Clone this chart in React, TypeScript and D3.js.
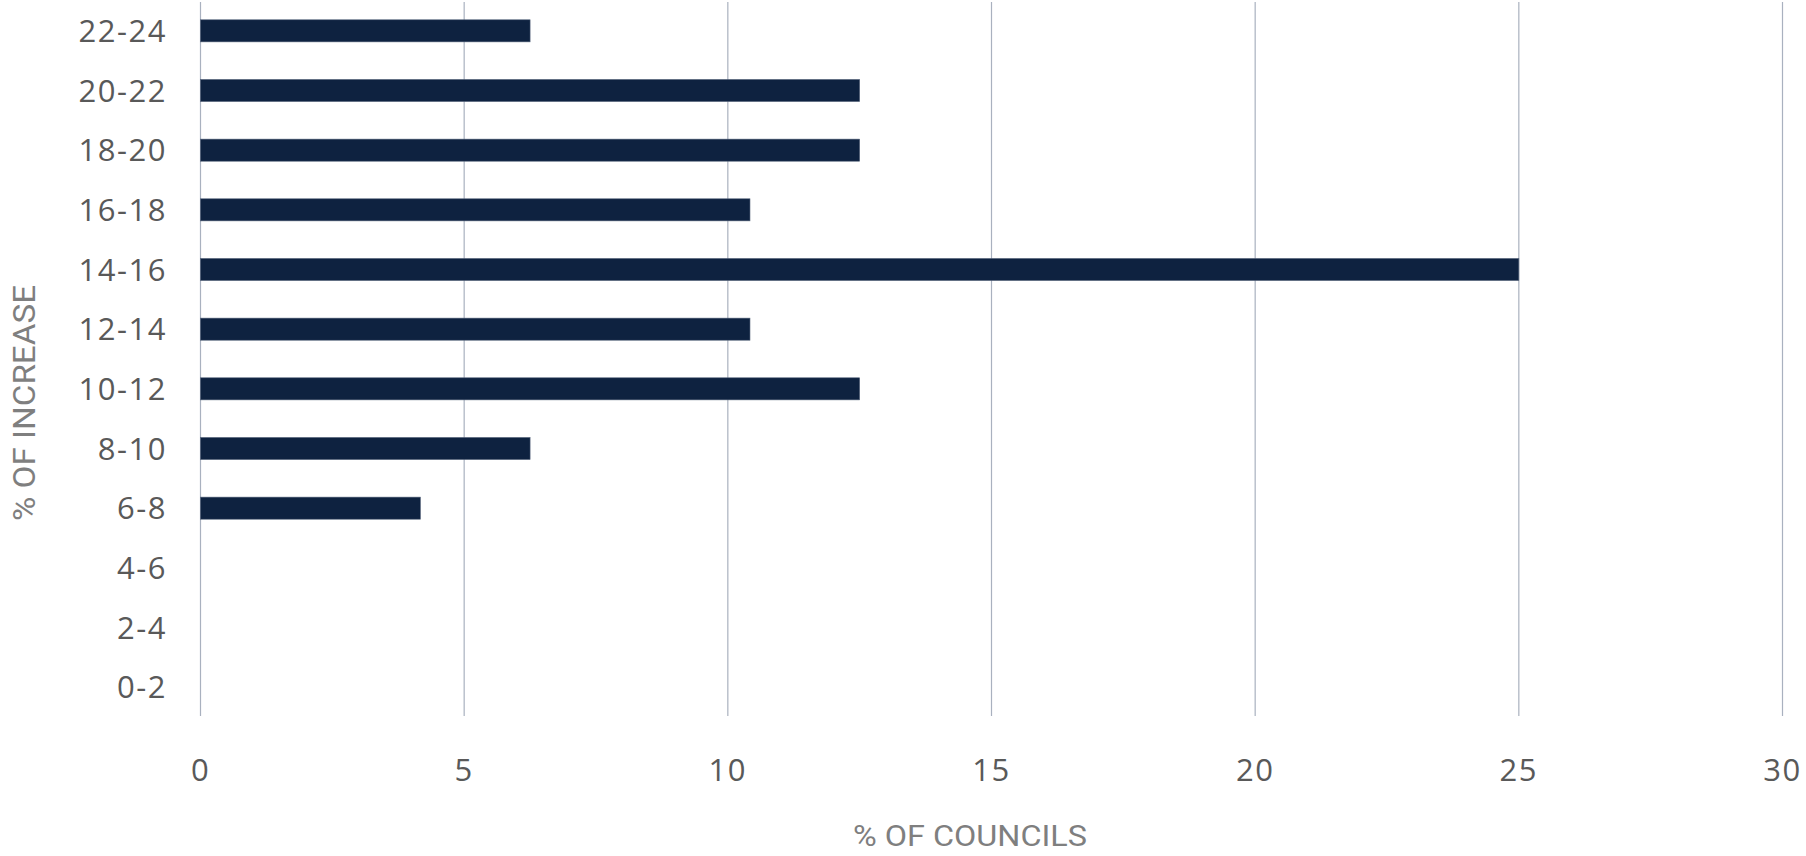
import React from "react";
import * as d3 from "d3";

const categories = ["22-24", "20-22", "18-20", "16-18", "14-16", "12-14", "10-12", "8-10", "6-8", "4-6", "2-4", "0-2"];
const values = [6.25, 12.5, 12.5, 10.42, 25, 10.42, 12.5, 6.25, 4.17, 0, 0, 0];
const xTicks = [0, 5, 10, 15, 20, 25, 30];
const xTitle = "% OF COUNCILS";
const yTitle = "% OF INCREASE";

const W = 1806;
const H = 856;

export default function App() {
  const x = d3.scaleLinear().domain([0, 30]).range([200.5, 1782.5]);
  const y = d3
    .scaleBand<string>()
    .domain(categories)
    .range([1, 717])
    .paddingInner(0.63)
    .paddingOuter(0.315);

  const tickFont = "'Open Sans', Lato, sans-serif";
  return (
    <svg
      width={W}
      height={H}
      style={{ position: "absolute", left: 0, top: 0, background: "#fff" }}
    >
      {xTicks.map((t) => (
        <line
          key={"g" + t}
          x1={x(t)}
          x2={x(t)}
          y1={2}
          y2={716}
          stroke="#a9b1bf"
          strokeWidth={1.2}
        />
      ))}
      {categories.map((c, i) => (
        <rect
          key={c}
          x={x(0)}
          y={y(c)!}
          width={Math.max(0, x(values[i]) - x(0))}
          height={y.bandwidth()}
          fill="#0e2240"
          stroke="#55637a"
          strokeWidth={0.6}
          opacity={values[i] > 0 ? 1 : 0}
        />
      ))}
      {categories.map((c) => (
        <text
          key={"l" + c}
          x={167}
          y={y(c)! + y.bandwidth() / 2}
          dy="0.36em"
          textAnchor="end"
          fontFamily={tickFont}
          fontSize={31}
          letterSpacing={1.5}
          fill="#595959"
        >
          {c}
        </text>
      ))}
      {xTicks.map((t) => (
        <text
          key={"t" + t}
          x={x(t)}
          y={770}
          dy="0.36em"
          textAnchor="middle"
          fontFamily={tickFont}
          fontSize={31}
          letterSpacing={1.5}
          fill="#595959"
        >
          {t}
        </text>
      ))}
      <text
        x={970}
        y={846}
        textAnchor="middle"
        fontFamily="'Liberation Sans Narrow', Roboto, sans-serif"
        fontSize={29}
        textLength={234}
        lengthAdjust="spacingAndGlyphs"
        fill="#7f7f7f"
      >
        {xTitle}
      </text>
      <text
        transform={`translate(24, 403) rotate(-90)`}
        dy="0.35em"
        textAnchor="middle"
        fontFamily="'Liberation Sans Narrow', Roboto, sans-serif"
        fontSize={31}
        textLength={236}
        lengthAdjust="spacingAndGlyphs"
        fill="#7f7f7f"
      >
        {yTitle}
      </text>
    </svg>
  );
}
